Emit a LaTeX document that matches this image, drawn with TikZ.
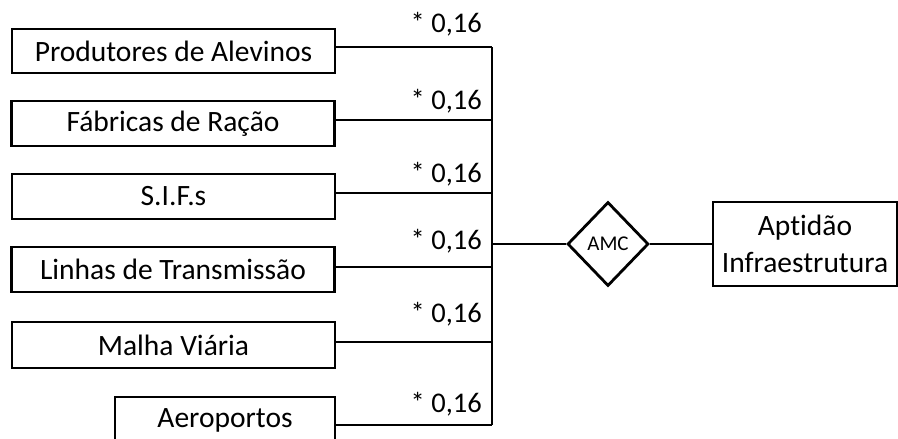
\documentclass[tikz,border=0pt]{standalone}
\usepackage{fontspec}
\setmainfont{Carlito}[Ligatures=NoCommon]
\usetikzlibrary{shapes.geometric}
\begin{document}
\begin{tikzpicture}[x=1pt,y=-1pt,
  box/.style={draw=black,line width=2.8pt,fill=white,inner sep=0pt,
    font=\fontsize{29.5}{37}\selectfont,minimum width=323pt},
  wt/.style={anchor=base east,inner sep=0pt,font=\fontsize{28.5}{32}\selectfont},
  conn/.style={draw=black,line width=2.8pt},
  amcbox/.style={draw=black,line width=2.8pt,diamond,inner sep=0pt,
    minimum width=81pt,minimum height=84pt,font=\fontsize{21}{24}\selectfont}]
\useasboundingbox (0,0) rectangle (898,439);
\node[box,minimum height=44pt] (b1) at (173.5,51) {Produtores de Alevinos};
\node[box,minimum height=45pt] (b2) at (173,123.5) {Fábricas de Ração};
\node[box,minimum height=45pt] (b3) at (173.5,196.5) {S.I.F.s};
\node[box,minimum height=45pt] (b4) at (173,269.5) {Linhas de Transmissão};
\node[box,minimum height=46pt] (b5) at (173.5,345) {Malha Viária};
\node[box,minimum height=46pt,minimum width=220pt] (b6) at (225,420) {Aeroportos};
\coordinate (j1) at (492,47);
\coordinate (j2) at (492,120);
\coordinate (j3) at (492,193);
\coordinate (j4) at (492,267);
\coordinate (j5) at (492,342);
\coordinate (j6) at (492,425);
\coordinate (jm) at (492,244);
\draw[conn] (b1.east |- j1) -- (j1);
\draw[conn] (b2.east |- j2) -- (j2);
\draw[conn] (b3.east |- j3) -- (j3);
\draw[conn] (b4.east |- j4) -- (j4);
\draw[conn] (b5.east |- j5) -- (j5);
\draw[conn] (b6.east |- j6) -- (j6);
\draw[conn] (j1) -- (j6);
\node[wt] (w1) at (482,32) {* 0,16};
\node[wt] (w2) at (482,109) {* 0,16};
\node[wt] (w3) at (482,182) {* 0,16};
\node[wt] (w4) at (482,249) {* 0,16};
\node[wt] (w5) at (482,322) {* 0,16};
\node[wt] (w6) at (482,412) {* 0,16};
\node[amcbox] (amc) at (608,244) {AMC};
\node[box,minimum width=184pt,minimum height=84pt,align=center] (out) at (805,244) {Aptidão\\Infraestrutura};
\draw[conn] (jm) -- (amc.west);
\draw[conn] (amc.east) -- (out.west);
\end{tikzpicture}
\end{document}
